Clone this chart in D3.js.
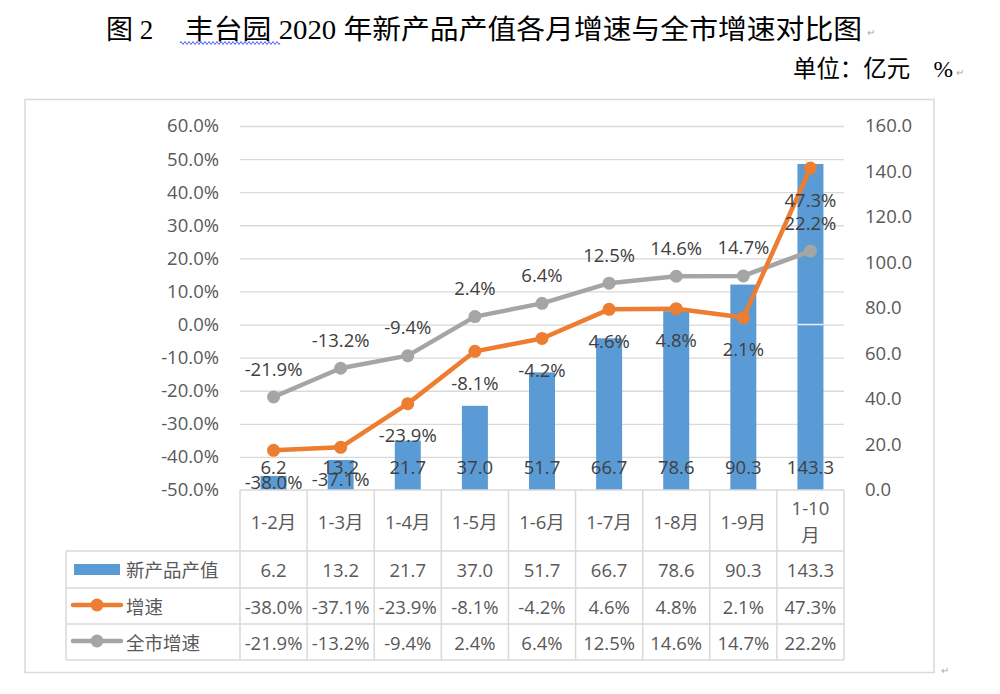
<!DOCTYPE html>
<html><head><meta charset="utf-8">
<script src="https://cdn.jsdelivr.net/npm/d3@7"></script>
<style>
html,body{margin:0;padding:0;background:#fff;}
svg{display:block;}
</style></head>
<body>
<svg id="chart" width="1000" height="694"></svg>
<script>
// ---- data ----
const categories = ["1-2月","1-3月","1-4月","1-5月","1-6月","1-7月","1-8月","1-9月","1-10月"];
const newProductValue = [6.2,13.2,21.7,37.0,51.7,66.7,78.6,90.3,143.3];
const growthRate = [-38.0,-37.1,-23.9,-8.1,-4.2,4.6,4.8,2.1,47.3];
const cityGrowthRate = [-21.9,-13.2,-9.4,2.4,6.4,12.5,14.6,14.7,22.2];
const leftTicks = [-50,-40,-30,-20,-10,0,10,20,30,40,50,60];
const rightTicks = [0,20,40,60,80,100,120,140,160];
const seriesNames = ["新产品产值","增速","全市增速"];
const titleA = "图 2";
const titleB = "丰台园 2020 年新产品产值各月增速与全市增速对比图";
const unitText = "单位：亿元　%";

// ---- layout ----
const svg = d3.select("#chart");
const L = 240, R = 844, T = 126, B = 490;
const blue = "#5B9BD5", orange = "#ED7D31", gray = "#A5A5A5";
const gridC = "#d9d9d9", axisTxt = "#595959", lblTxt = "#404040";
const font = "'Open Sans','Noto Sans CJK SC',sans-serif";

const x = d3.scaleBand().domain(categories).range([L, R]);
const yL = d3.scaleLinear().domain([-50, 60]).range([B, T]);
const yR = d3.scaleLinear().domain([0, 160]).range([B, T]);
const cx = c => x(c) + x.bandwidth() / 2;

// title
const serif = "'Liberation Serif','Noto Sans CJK SC',serif";
svg.append("text").attr("x", 106).attr("y", 39).attr("font-family", serif)
  .attr("font-size", 27).attr("fill", "#000").text(titleA);
svg.append("text").attr("x", 185).attr("y", 39).attr("font-family", serif)
  .attr("font-size", 27).attr("fill", "#000")
  .attr("textLength", 677).attr("lengthAdjust", "spacingAndGlyphs").text(titleB);
// spell-check wavy underline
{
  let p = "M180,43";
  for (let xx = 180; xx < 280; xx += 4) p += ` Q${xx+1},40 ${xx+2},43 Q${xx+3},46 ${xx+4},43`;
  svg.append("path").attr("d", p).attr("fill", "none").attr("stroke", "#4a5cff").attr("stroke-width", 1);
}
svg.append("text").attr("x", 793).attr("y", 77).attr("font-family", serif)
  .attr("font-size", 24).attr("fill", "#000")
  .attr("textLength", 160).attr("lengthAdjust", "spacingAndGlyphs").text(unitText);
[[867, 36], [956, 76], [941, 674]].forEach(([px, py]) =>
  svg.append("text").attr("x", px).attr("y", py).attr("font-family", font)
    .attr("font-size", 10).attr("fill", "#aaa").text("↵"));

// frame
svg.append("rect").attr("x", 25).attr("y", 99.5).attr("width", 909).attr("height", 573)
  .attr("fill", "none").attr("stroke", gridC).attr("stroke-width", 1.5);

// gridlines
const grid = svg.append("g").attr("transform", `translate(${L},0)`)
  .call(d3.axisLeft(yL).tickValues(leftTicks.filter(d => d > -50)).tickSize(-(R - L)).tickFormat(""));
grid.select(".domain").remove();
grid.selectAll("line").attr("stroke", gridC).attr("stroke-width", 1.3);

// left axis labels
const ax = svg.append("g").attr("transform", `translate(${L},0)`)
  .call(d3.axisLeft(yL).tickValues(leftTicks).tickSize(0).tickPadding(21).tickFormat(d => d.toFixed(1) + "%"));
ax.select(".domain").remove();
ax.selectAll("text").attr("font-family", font).attr("font-size", 18.5).attr("fill", axisTxt);

// right axis labels
const axR = svg.append("g").attr("transform", `translate(${R},0)`)
  .call(d3.axisRight(yR).tickValues(rightTicks).tickSize(0).tickPadding(21).tickFormat(d => d.toFixed(1)));
axR.select(".domain").remove();
axR.selectAll("text").attr("font-family", font).attr("font-size", 18.5).attr("fill", axisTxt);

// bars
const bw = 26;
svg.append("g").selectAll("rect").data(newProductValue).join("rect")
  .attr("x", (d, i) => cx(categories[i]) - bw / 2)
  .attr("y", d => yR(d)).attr("width", bw).attr("height", d => yR(0) - yR(d))
  .attr("fill", blue);
// light line artefact across the tallest bar at the 0% gridline
{
  const i = newProductValue.length - 1;
  svg.append("line").attr("x1", cx(categories[i]) - bw / 2).attr("x2", cx(categories[i]) + bw / 2)
    .attr("y1", yL(0)).attr("y2", yL(0)).attr("stroke", "#e6eef7").attr("stroke-width", 1.5);
}

// bar labels (inside base)
svg.append("g").selectAll("text").data(newProductValue).join("text")
  .attr("x", (d, i) => cx(categories[i])).attr("y", B - 24)
  .attr("text-anchor", "middle").attr("dominant-baseline", "central")
  .attr("font-family", font).attr("font-size", 18.5).attr("fill", lblTxt)
  .text(d => d.toFixed(1));

// lines
function drawLine(vals, color) {
  const line = d3.line().x((d, i) => cx(categories[i])).y(d => yL(d));
  svg.append("path").datum(vals).attr("d", line).attr("fill", "none")
    .attr("stroke", color).attr("stroke-width", 4.5).attr("stroke-linejoin", "round");
  svg.append("g").selectAll("circle").data(vals).join("circle")
    .attr("cx", (d, i) => cx(categories[i])).attr("cy", d => yL(d)).attr("r", 6.5).attr("fill", color);
}
drawLine(cityGrowthRate, gray);
drawLine(growthRate, orange);

// line labels
svg.append("g").selectAll("text").data(cityGrowthRate).join("text")
  .attr("x", (d, i) => cx(categories[i])).attr("y", d => yL(d) - 29)
  .attr("text-anchor", "middle").attr("dominant-baseline", "central")
  .attr("font-family", font).attr("font-size", 18.5).attr("fill", lblTxt)
  .text(d => d.toFixed(1) + "%");
svg.append("g").selectAll("text").data(growthRate).join("text")
  .attr("x", (d, i) => cx(categories[i])).attr("y", d => yL(d) + 31)
  .attr("text-anchor", "middle").attr("dominant-baseline", "central")
  .attr("font-family", font).attr("font-size", 18.5).attr("fill", lblTxt)
  .text(d => d.toFixed(1) + "%");

// data table
const rowsY = [490, 551, 588, 624, 660];
const legL = 66;
const tg = svg.append("g");
const tline = (x1, y1, x2, y2) => tg.append("line").attr("x1", x1).attr("y1", y1).attr("x2", x2).attr("y2", y2)
  .attr("stroke", gridC).attr("stroke-width", 1.5);
tline(L, rowsY[0], R, rowsY[0]);
for (let r = 1; r < rowsY.length; r++) tline(legL, rowsY[r], R, rowsY[r]);
tline(legL, rowsY[1], legL, rowsY[4]);
categories.forEach(c => tline(x(c), rowsY[0], x(c), rowsY[4]));
tline(R, rowsY[0], R, rowsY[4]);

// header
categories.forEach(c => {
  const t = tg.append("text").attr("text-anchor", "middle").attr("font-family", font)
    .attr("font-size", 18.5).attr("fill", axisTxt);
  if (c.length > 4) {
    t.append("tspan").attr("x", cx(c)).attr("y", 507).attr("dominant-baseline", "central").text(c.slice(0, -1));
    t.append("tspan").attr("x", cx(c)).attr("y", 534).attr("dominant-baseline", "central").text(c.slice(-1));
  } else {
    t.attr("x", cx(c)).attr("y", 521).attr("dominant-baseline", "central").text(c);
  }
});
const rowVals = [newProductValue.map(d => d.toFixed(1)), growthRate.map(d => d.toFixed(1) + "%"), cityGrowthRate.map(d => d.toFixed(1) + "%")];
rowVals.forEach((vals, r) => {
  const yc = (rowsY[r + 1] + rowsY[r + 2]) / 2;
  vals.forEach((v, i) => tg.append("text").attr("x", cx(categories[i])).attr("y", yc)
    .attr("text-anchor", "middle").attr("dominant-baseline", "central")
    .attr("font-family", font).attr("font-size", 18.5).attr("fill", axisTxt).text(v));
  // legend
  if (r === 0) {
    tg.append("rect").attr("x", 74).attr("y", yc - 5.5).attr("width", 46).attr("height", 11).attr("fill", blue);
  } else {
    const col = r === 1 ? orange : gray;
    tg.append("line").attr("x1", 73).attr("x2", 121).attr("y1", yc - 1).attr("y2", yc - 1)
      .attr("stroke", col).attr("stroke-width", 4.5).attr("stroke-linecap", "round");
    tg.append("circle").attr("cx", 97).attr("cy", yc - 1).attr("r", 6.5).attr("fill", col);
  }
  tg.append("text").attr("x", 126).attr("y", yc).attr("dominant-baseline", "central")
    .attr("font-family", font).attr("font-size", 18.5).attr("fill", axisTxt).text(seriesNames[r]);
});
</script>
</body></html>
